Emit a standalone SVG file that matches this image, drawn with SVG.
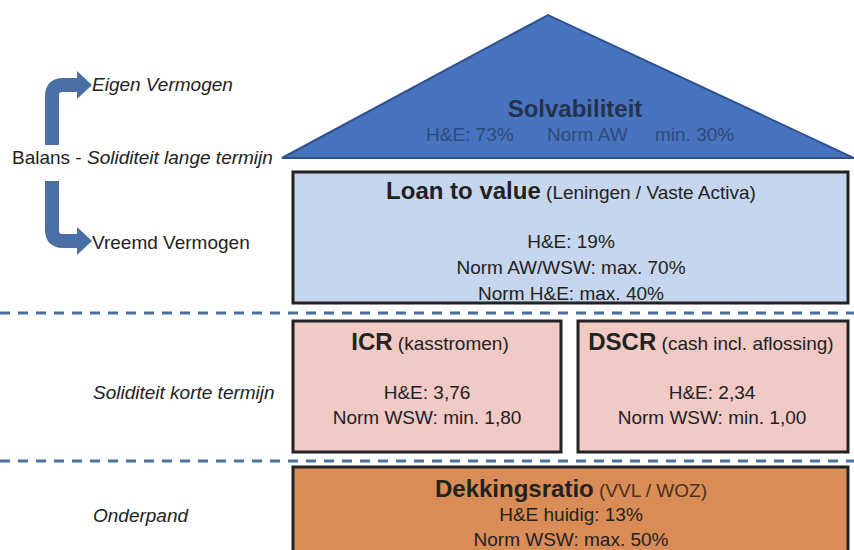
<svg xmlns="http://www.w3.org/2000/svg" width="854" height="550" viewBox="0 0 854 550">
<style>
text{font-family:"Liberation Sans",Arial,sans-serif;fill:#222}
.t{font-size:24px;font-weight:bold}
.p{font-size:19px}
.b{font-size:19px}
.l{font-size:19px}
.i{font-style:italic}
.box{stroke:#222;stroke-width:3}
.dash{stroke:#4a6fa5;stroke-width:3;stroke-dasharray:10 8;fill:none}
.arr{stroke:#4a6fa5;stroke-width:14;fill:none}
</style>
<rect width="854" height="550" fill="#fff"/>
<g id="connectors">
<path class="arr" d="M52,145 L52,96 Q52,85 63,85 L79,85"/>
<polygon points="77,71 92,85 77,99" fill="#4a6fa5"/>
<path class="arr" d="M52,181 L52,230 Q52,241 63,241 L79,241"/>
<polygon points="77,227 92,241 77,255" fill="#4a6fa5"/>
<line class="dash" x1="0" y1="313" x2="854" y2="313"/>
<line class="dash" x1="0" y1="461" x2="854" y2="461"/>
</g>
<g id="labels">
<text class="l i" x="92" y="91">Eigen Vermogen</text>
<text class="l" x="12" y="164">Balans - <tspan class="i">Soliditeit lange termijn</tspan></text>
<text class="l" x="92" y="249">Vreemd Vermogen</text>
<text class="l i" x="93" y="399">Soliditeit korte termijn</text>
<text class="l i" x="93" y="522">Onderpand</text>
</g>
<g id="solvabiliteit">
<polygon points="282,158 548,15 854,158" fill="#4874bf" stroke="#2f528f" stroke-width="2"/>
<text class="t" x="575" y="117" text-anchor="middle" style="fill:#26324d">Solvabiliteit</text>
<text class="p" x="426" y="141" style="fill:#2f4a7c">H&amp;E: 73%</text>
<text class="p" x="547" y="141" style="fill:#2f4a7c">Norm AW</text>
<text class="p" x="655" y="141" style="fill:#2f4a7c">min. 30%</text>
</g>
<g id="loan">
<rect class="box" x="293" y="172" width="555" height="131" fill="#c6d6ee"/>
<text x="571" y="199" text-anchor="middle"><tspan class="t">Loan to value</tspan><tspan class="p"> (Leningen / Vaste Activa)</tspan></text>
<text class="b" x="571" y="248" text-anchor="middle">H&amp;E: 19%</text>
<text class="b" x="571" y="274" text-anchor="middle">Norm AW/WSW: max. 70%</text>
<text class="b" x="571" y="300" text-anchor="middle">Norm H&amp;E: max. 40%</text>
</g>
<g id="icr">
<rect class="box" x="293" y="321" width="268" height="131" fill="#f1c9c5"/>
<text x="430" y="350" text-anchor="middle"><tspan class="t">ICR</tspan><tspan class="p"> (kasstromen)</tspan></text>
<text class="b" x="427" y="399" text-anchor="middle">H&amp;E: 3,76</text>
<text class="b" x="427" y="424" text-anchor="middle">Norm WSW: min. 1,80</text>
</g>
<g id="dscr">
<rect class="box" x="578" y="321" width="270" height="131" fill="#f1c9c5"/>
<text x="711" y="350" text-anchor="middle"><tspan class="t">DSCR</tspan><tspan class="p"> (cash incl. aflossing)</tspan></text>
<text class="b" x="712" y="399" text-anchor="middle">H&amp;E: 2,34</text>
<text class="b" x="712" y="424" text-anchor="middle">Norm WSW: min. 1,00</text>
</g>
<g id="dekkingsratio">
<rect class="box" x="293" y="467" width="555" height="90" fill="#d98c55"/>
<text x="571" y="497" text-anchor="middle"><tspan class="t">Dekkingsratio</tspan><tspan class="p" style="fill:#4a3020"> (VVL / WOZ)</tspan></text>
<text class="b" x="571" y="521" text-anchor="middle">H&amp;E huidig: 13%</text>
<text class="b" x="571" y="546" text-anchor="middle">Norm WSW: max. 50%</text>
</g>
</svg>
